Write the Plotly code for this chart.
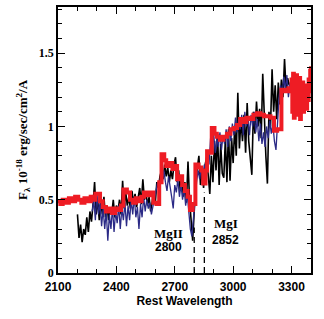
import plotly.graph_objects as go

# ---------------- data ----------------
black_start, black_step = 2200, 8
black_flux = [
    0.40, 0.24, 0.33, 0.21, 0.30, 0.26, 0.38, 0.28,   # 2200-2256
    0.42, 0.35, 0.47, 0.62, 0.40, 0.50, 0.36, 0.48,   # 2264-2320
    0.40, 0.52, 0.38, 0.46, 0.36, 0.44, 0.40, 0.50,   # 2328-2384
    0.38, 0.46, 0.42, 0.50, 0.40, 0.63, 0.44, 0.55,   # 2392-2448
    0.46, 0.52, 0.44, 0.56, 0.48, 0.54, 0.45, 0.52,   # 2456-2512
    0.58, 0.47, 0.64, 0.50, 0.55, 0.46, 0.52, 0.42,   # 2520-2576
    0.50, 0.55, 0.48, 0.62, 0.58, 0.66, 0.70, 0.64,   # 2584-2640
    0.74, 0.66, 0.72, 0.62, 0.70, 0.64, 0.74, 0.79,   # 2648-2704
    0.62, 0.70, 0.56, 0.66, 0.52, 0.62, 0.48, 0.76,   # 2712-2768
    0.50, 0.34, 0.22, 0.42, 0.62, 0.72, 0.80, 0.60,   # 2776-2832
    0.70, 0.58, 0.74, 0.79, 0.66, 0.54, 0.80, 0.62,   # 2840-2896
    0.90, 0.70, 0.95, 0.60, 0.88, 0.68, 0.65, 0.92,   # 2904-2960
    0.62, 0.98, 0.63, 0.92, 0.75, 1.00, 0.80, 1.23,   # 2968-3024
    0.85, 1.05, 0.90, 1.08, 0.82, 1.16, 0.90, 0.76,   # 3032-3088
    0.67, 1.10, 0.95, 1.17, 1.00, 1.12, 0.92, 1.36,   # 3096-3152
    1.05, 0.80, 0.61, 1.10, 1.00, 1.39, 1.10, 1.28,   # 3160-3216
    1.05, 1.30, 1.15, 1.32, 1.20, 1.46, 1.25, 1.33,   # 3224-3280
    1.28,                                             # 3288
]
black_wl = [black_start + black_step * i for i in range(len(black_flux))]

blue_start, blue_step = 2276, 8
blue_flux = [
    0.42, 0.50, 0.36, 0.55, 0.40, 0.48, 0.32, 0.44,   # 2276-2332
    0.30, 0.42, 0.22, 0.40, 0.30, 0.45, 0.28, 0.42,   # 2340-2396
    0.34, 0.46, 0.30, 0.44, 0.36, 0.48, 0.32, 0.46,   # 2404-2460
    0.36, 0.50, 0.40, 0.52, 0.38, 0.45, 0.30, 0.47,   # 2468-2524
    0.38, 0.52, 0.42, 0.50, 0.44, 0.48, 0.40, 0.46,   # 2532-2588
    0.50, 0.56, 0.62, 0.58, 0.66, 0.62, 0.70, 0.62,   # 2596-2652
    0.56, 0.66, 0.60, 0.52, 0.44, 0.60, 0.55, 0.64,   # 2660-2716
    0.52, 0.60, 0.50, 0.58, 0.46, 0.54, 0.42, 0.30,   # 2724-2780
    0.25, 0.38, 0.55, 0.62, 0.70, 0.64, 0.72, 0.66,   # 2788-2844
    0.74, 0.70, 0.78, 0.74, 0.92, 0.85, 0.95, 0.82,   # 2852-2908
    0.92, 0.86, 0.96, 0.84, 0.94, 0.88, 0.98, 0.86,   # 2916-2972
    1.00, 0.90, 1.02, 0.94, 1.06, 0.96, 1.05, 0.98,   # 2980-3036
    1.08, 0.94, 1.10, 1.00, 1.06, 0.94, 1.08, 1.00,   # 3044-3100
    1.10, 0.96, 1.05, 0.90, 1.02, 0.88, 0.96, 0.86,   # 3108-3164
    1.00, 0.92, 1.04, 0.95, 1.02, 0.90, 0.84, 1.05,   # 3172-3228
    1.20, 1.28, 1.22, 1.34, 1.25, 1.35, 1.20, 1.30,   # 3236-3292
]
blue_wl = [blue_start + blue_step * i for i in range(len(blue_flux))]

red_wl = [
    2100, 2112, 2124, 2140, 2156, 2172, 2188, 2204, 2220, 2236, 2252, 2268, 2284,
    2292, 2316, 2330, 2346, 2362, 2378, 2394, 2410, 2424, 2436, 2454, 2470, 2486,
    2500, 2516, 2530, 2542, 2560, 2576, 2590, 2606, 2620, 2632, 2646, 2656, 2672,
    2688, 2700, 2712, 2726, 2738, 2752, 2766, 2778, 2792, 2806, 2822, 2836, 2846,
    2858, 2866, 2880, 2890, 2904, 2916, 2932, 2950, 2968, 2986, 3004, 3020, 3036,
    3052, 3068, 3086, 3104, 3122, 3140, 3158, 3176, 3192, 3210, 3226, 3248, 3266,
    3284, 3300, 3304, 3308, 3312, 3316, 3320, 3324, 3328, 3332, 3336, 3340, 3344,
    3348, 3352, 3356, 3360, 3364, 3368, 3372, 3376, 3380, 3384, 3388, 3392, 3396,
    3400,
]
red_flux = [
    0.49, 0.47, 0.50, 0.48, 0.51, 0.49, 0.52, 0.50, 0.48, 0.51, 0.49, 0.52, 0.50,
    0.54, 0.49, 0.45, 0.42, 0.44, 0.41, 0.44, 0.43, 0.46, 0.57, 0.55, 0.50, 0.48,
    0.51, 0.49, 0.52, 0.55, 0.53, 0.55, 0.48, 0.47, 0.62, 0.81, 0.77, 0.73, 0.75,
    0.71, 0.73, 0.64, 0.66, 0.60, 0.56, 0.52, 0.43, 0.47, 0.74, 0.72, 0.70, 0.61,
    0.70, 0.83, 0.82, 0.99, 0.95, 0.93, 0.91, 0.93, 0.95, 0.98, 0.99, 1.01, 1.05,
    1.03, 1.06, 1.05, 1.08, 1.09, 1.08, 1.07, 1.07, 1.06, 0.97, 0.98, 1.25, 1.24,
    1.26, 1.32, 1.10, 1.36, 1.06, 1.30, 1.15, 1.35, 1.08, 1.28, 1.12, 1.33, 1.05,
    1.25, 1.16, 1.30, 1.10, 1.22, 1.14, 1.28, 1.12, 1.26, 1.18, 1.32, 1.24, 1.38,
    1.41,
]

x_tickvals = [2100, 2400, 2700, 3000, 3300]
y_tickvals = [0, 0.5, 1, 1.5]
y_ticktext = ["0", "0.5", "1", "1.5"]
lines_wl = [2800, 2852]
lines_top = [0.31, 0.55]
ion_names = ["MgII", "MgI"]
ion_wl_text = ["2800", "2852"]
label_x = [2666, 2963]
name_y = [0.27, 0.34]
num_y = [0.178, 0.227]

# ---------------- figure ----------------
fig = go.Figure()
fig.add_trace(go.Scatter(x=black_wl, y=black_flux, mode="lines",
                         line=dict(color="#000000", width=1.6), showlegend=False))
fig.add_trace(go.Scatter(x=blue_wl, y=blue_flux, mode="lines",
                         line=dict(color="#2b2a86", width=1.3), showlegend=False))
fig.add_trace(go.Scatter(x=red_wl, y=red_flux, mode="lines", line_shape="hv",
                         line=dict(color="#ee1c24", width=4), showlegend=False))

for wl, top in zip(lines_wl, lines_top):
    fig.add_shape(type="line", x0=wl, x1=wl, y0=0, y1=top, xref="x", yref="y",
                  line=dict(color="black", width=1.3, dash="6px,4px"))

for nm, num, xx, y1, y2 in zip(ion_names, ion_wl_text, label_x, name_y, num_y):
    fig.add_annotation(x=xx, y=y1, text="<b>" + nm + "</b>", showarrow=False,
                       font=dict(family="Liberation Serif", size=13, color="black"),
                       xanchor="center", yanchor="middle")
    fig.add_annotation(x=xx, y=y2, text="<b>" + num + "</b>", showarrow=False,
                       font=dict(family="Liberation Sans", size=12, color="black"),
                       xanchor="center", yanchor="middle")

axis_font = dict(family="Liberation Sans", size=12, color="black")
yaxis_font = dict(family="Liberation Serif", size=12, color="black")
fig.update_layout(
    width=324, height=319,
    margin=dict(l=58, r=13, t=5, b=46),
    plot_bgcolor="white", paper_bgcolor="white",
    xaxis=dict(range=[2100, 3400], tickvals=x_tickvals,
               ticktext=["<b>%d</b>" % v for v in x_tickvals],
               ticks="inside", ticklen=7, tickwidth=1.2, tickcolor="black",
               mirror="ticks", showline=True, linecolor="black", linewidth=1.5,
               showgrid=False, zeroline=False, tickfont=axis_font,
               ticklabelstandoff=2,
               minor=dict(dtick=100, tick0=2100, ticks="inside", ticklen=4,
                          tickcolor="black", tickwidth=1, showgrid=False),
               title=dict(text="<b>Rest Wavelength</b>", font=axis_font, standoff=0)),
    yaxis=dict(range=[0, 1.815], tickvals=y_tickvals,
               ticktext=["<b>%s</b>" % t for t in y_ticktext],
               ticks="inside", ticklen=7, tickwidth=1.2, tickcolor="black",
               mirror="ticks", showline=True, linecolor="black", linewidth=1.5,
               showgrid=False, zeroline=False, tickfont=yaxis_font,
               minor=dict(dtick=0.1, tick0=0, ticks="inside", ticklen=4,
                          tickcolor="black", tickwidth=1, showgrid=False),
               title=dict(text="<b>F<sub>λ</sub> 10<sup>-18</sup> erg/sec/cm<sup>2</sup>/A</b>",
                          font=dict(family="Liberation Serif", size=13, color="black"),
                          standoff=8)),
)

fig.write_html("out.html", config={"displayModeBar": False},
               post_script="document.body.style.margin='0px';")
